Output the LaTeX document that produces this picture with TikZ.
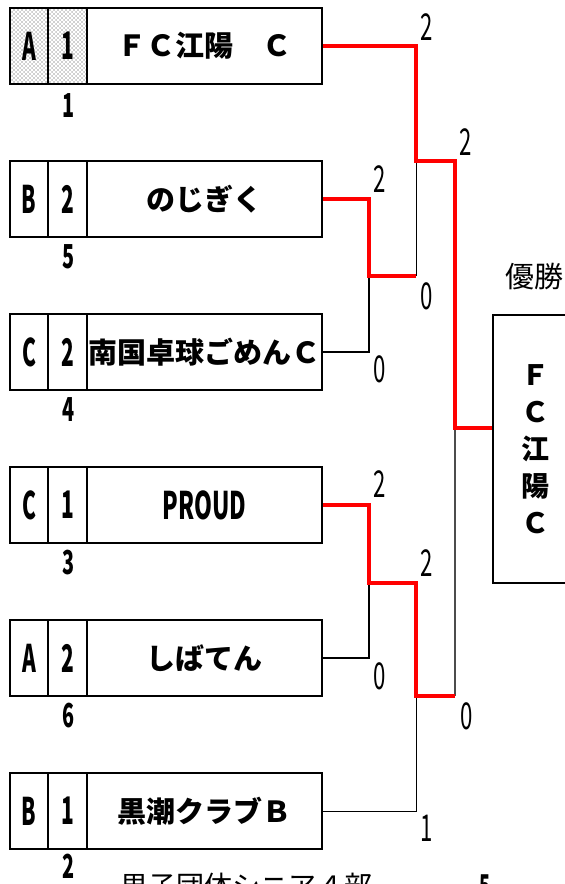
\documentclass[tikz,border=0pt]{standalone}
\usepackage{fontspec}
\usepackage{graphicx}
\setmainfont{Noto Sans CJK JP}
\usetikzlibrary{patterns.meta}
\newcommand{\narrow}[2][0.55]{\scalebox{#1}[1]{#2}}
\tikzdeclarepattern{
  name=sparsedots,
  type=uncolored,
  bottom left={(-.5pt,-.5pt)},
  top right={(3.5pt,3.5pt)},
  tile size={(4pt,4pt)},
  tile transformation={rotate=0},
  code={\fill (0pt,0pt) circle (0.55pt); \fill (2pt,2pt) circle (0.55pt);}
}
\begin{document}
\begin{tikzpicture}[x=1pt,y=-1pt]
      \tikzstyle{every node}=[inner sep=0pt]
      \tikzset{
        gcell/.style={draw,line width=2pt,minimum width=38pt,minimum height=76pt,font=\bfseries\fontsize{38}{38}\selectfont},
        rcell/.style={draw,line width=2pt,minimum width=39pt,minimum height=76pt,font=\bfseries\fontsize{38}{38}\selectfont},
        namebox/.style={draw,line width=2pt,minimum width=235pt,minimum height=76pt,font=\bfseries\fontsize{29}{29}\selectfont},
        dotted cell/.style={pattern=sparsedots,pattern color=black!80},
        seed/.style={font=\bfseries\fontsize{33}{33}\selectfont},
        score/.style={font=\fontsize{37}{37}\selectfont},
        win/.style={red,line width=4pt},
        lose/.style={black,line width=1.8pt},
        thinlose/.style={black,line width=1pt}
      }
      \useasboundingbox (0,0) rectangle (565,884);
      %%% HELP LINES - uncomment to design/extend
      %\draw[step=50pt,gray,very thin] (0,0) grid (565,884);
      %% Team 1
      \node (g1) at (29,46) [gcell,dotted cell] {\narrow{A}};
      \node (r1) at (67.5,46) [rcell,dotted cell] {\narrow{1}};
      \node (t1) at (204.5,46) [namebox] {ＦＣ江陽　Ｃ};
      \node at (69,106) [seed] {\narrow[0.6]{1}};
      %% Team 2
      \node (g2) at (29,199) [gcell] {\narrow{B}};
      \node (r2) at (67.5,199) [rcell] {\narrow{2}};
      \node (t2) at (204.5,199) [namebox] {のじぎく};
      \node at (69,257) [seed] {\narrow[0.6]{5}};
      %% Team 3
      \node (g3) at (29,352) [gcell] {\narrow{C}};
      \node (r3) at (67.5,352) [rcell] {\narrow{2}};
      \node (t3) at (204.5,352) [namebox] {南国卓球ごめんＣ};
      \node at (69,410) [seed] {\narrow[0.6]{4}};
      %% Team 4
      \node (g4) at (29,505) [gcell] {\narrow{C}};
      \node (r4) at (67.5,505) [rcell] {\narrow{1}};
      \node (t4) at (204.5,505) [namebox] {\fontsize{38}{38}\selectfont\narrow[0.6]{PROUD}};
      \node at (69,563) [seed] {\narrow[0.6]{3}};
      %% Team 5
      \node (g5) at (29,658) [gcell] {\narrow{A}};
      \node (r5) at (67.5,658) [rcell] {\narrow{2}};
      \node (t5) at (204.5,658) [namebox] {しばてん};
      \node at (69,716) [seed] {\narrow[0.6]{6}};
      %% Team 6
      \node (g6) at (29,811) [gcell] {\narrow{B}};
      \node (r6) at (67.5,811) [rcell] {\narrow{1}};
      \node (t6) at (204.5,811) [namebox] {黒潮クラブＢ};
      \node at (69,866) [seed] {\narrow[0.6]{2}};
      %% Champion
      \node (champ) at (535,449) [draw,line width=2pt,minimum width=84pt,minimum height=268pt] {};
      \node at (535,449) [align=center,font=\bfseries\fontsize{28}{37}\selectfont] {Ｆ\\Ｃ\\江\\陽\\Ｃ};
      \node at (534,277) [font=\fontsize{29}{29}\selectfont] {優勝};
      %% Junctions
      \coordinate (m1) at (369,276);
      \coordinate (m1e) at (416,276);
      \coordinate (s1) at (416,161);
      \coordinate (m2) at (369,583);
      \coordinate (m2e) at (416,583);
      \coordinate (s2) at (416,696);
      \coordinate (s2e) at (455,696);
      \coordinate (f) at (455,428);
      %% Losing lines
      \draw[lose] (t3.east) -| (m1);
      \draw[thinlose] (m1e) -- (s1);
      \draw[lose] (t5.east) -| (m2);
      \draw[thinlose] (t6.east) -| (s2);
      \draw[black!70,line width=1.5pt] (s2e) -- (f);
      %% Winning lines
      \draw[win] (t2.east) -| (m1) -- (m1e);
      \draw[win] (t1.east) -| (s1) -| (f) -- (f -| champ.west);
      \draw[win] (t4.east) -| (m2) -- (m2e) -- (s2) -- (s2e);
      %% Scores
      \node at (427,27) [score] {\narrow[0.6]{2}};
      \node at (466,142) [score] {\narrow[0.6]{2}};
      \node at (380,179) [score] {\narrow[0.6]{2}};
      \node at (427,296) [score] {\narrow[0.6]{0}};
      \node at (380,369) [score] {\narrow[0.6]{0}};
      \node at (380,484) [score] {\narrow[0.6]{2}};
      \node at (427,563) [score] {\narrow[0.6]{2}};
      \node at (380,676) [score] {\narrow[0.6]{0}};
      \node at (467,716) [score] {\narrow[0.6]{0}};
      \node at (427,828) [score] {\narrow[0.6]{1}};
      %% Title
      \node at (246,896) [anchor=base,font=\fontsize{28}{28}\selectfont] {男子団体シニア４部};
      \node at (485,896) [anchor=base,font=\bfseries\fontsize{30}{30}\selectfont] {\narrow[0.6]{5}};
\end{tikzpicture}
\end{document}
